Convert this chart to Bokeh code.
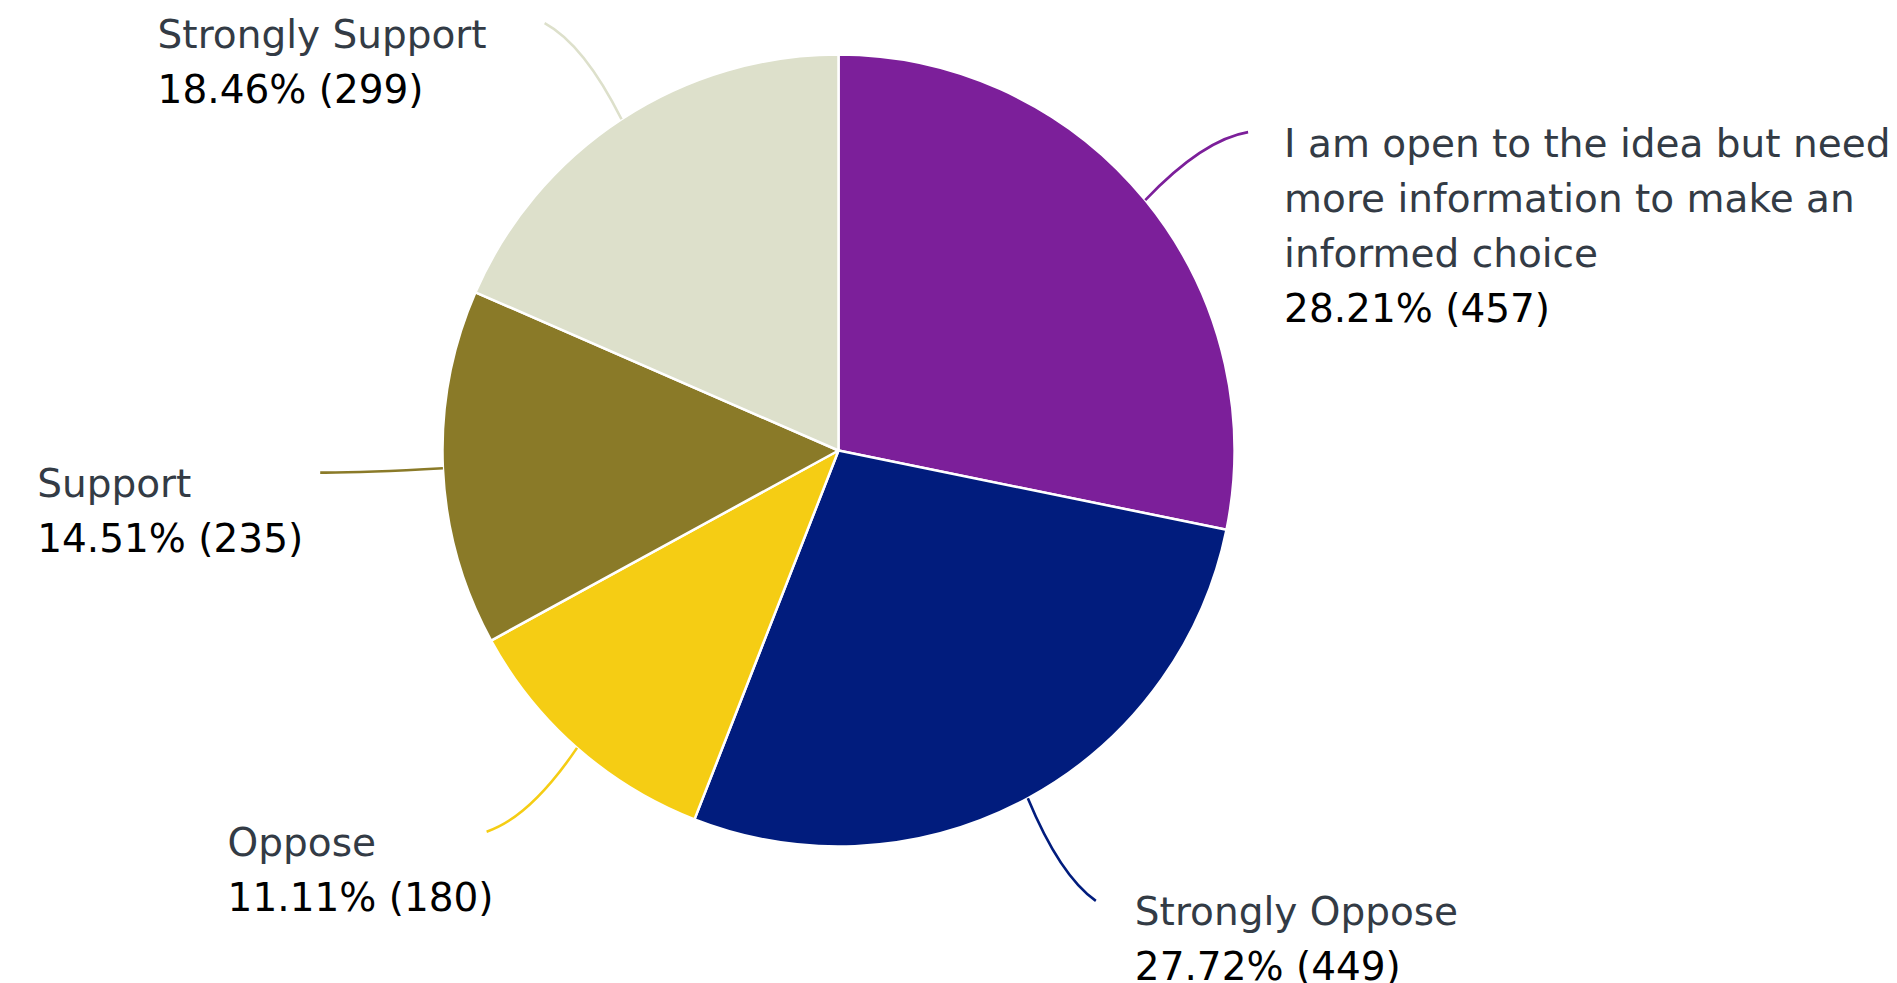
import textwrap
import numpy as np
from bokeh.plotting import figure
from bokeh.models import Range1d, ColumnDataSource
from bokeh.core.properties import value
from bokeh.embed import file_html
from bokeh.resources import INLINE

# ---- data (clockwise from 12 o'clock) ----
categories = [
    "I am open to the idea but need more information to make an informed choice",
    "Strongly Oppose",
    "Oppose",
    "Support",
    "Strongly Support",
]
percents = [28.21, 27.72, 11.11, 14.51, 18.46]
counts = [457, 449, 180, 235, 299]
colors = ["#7c1f9a", "#011c7d", "#f5cd14", "#8a7a28", "#dde0cb"]

# ---- layout ----
W, H = 1897, 983
CX, CY, R = 838, H - 450, 396
FONT = value("DejaVu Sans")
FS = "39px"
LINE_H = 55
label_dx = [36, 39, -259, -283, -387]
label_dy = 11

fr = np.array(percents) / sum(percents)
cum = np.concatenate([[0.0], np.cumsum(fr)]) * 2 * np.pi
a0, a1 = cum[:-1], cum[1:]
start = np.pi / 2 - a1
end = np.pi / 2 - a0

p = figure(width=W, height=H, x_range=Range1d(0, W), y_range=Range1d(0, H),
           output_backend="svg", toolbar_location=None, min_border=0,
           x_axis_type=None, y_axis_type=None)
p.grid.visible = False
p.outline_line_color = None
p.background_fill_color = "white"
p.border_fill_color = "white"

src = ColumnDataSource(dict(start=start, end=end, color=colors))
p.wedge(x=CX, y=CY, radius=R, start_angle="start", end_angle="end",
        fill_color="color", line_color="white", line_width=2.5, source=src)

# leader lines
mid = (a0 + a1) / 2
delta = np.deg2rad(2.8) * np.sin(mid) * np.cos(mid)
sx = CX + R * np.sin(mid)
sy = CY + R * np.cos(mid)
ea = mid + delta
ex = CX + 1.31 * R * np.sin(ea)
ey = CY + 1.31 * R * np.cos(ea)
ca = mid - 0.9 * delta
cxp = CX + 1.21 * R * np.sin(ca)
cyp = CY + 1.21 * R * np.cos(ca)
p.quadratic(x0=sx, y0=sy, x1=ex, y1=ey, cx=cxp, cy=cyp,
            line_color=colors, line_width=2.6)

# labels
nx, ny, nt, vx, vy, vt = [], [], [], [], [], []
for i, cat in enumerate(categories):
    lines = textwrap.wrap(cat, 30)
    x0 = ex[i] + label_dx[i]
    y0 = ey[i] - label_dy
    for j, ln in enumerate(lines):
        nx.append(x0); ny.append(y0 - j * LINE_H); nt.append(ln)
    vx.append(x0); vy.append(y0 - len(lines) * LINE_H)
    vt.append(f"{percents[i]:.2f}% ({counts[i]})")

p.text(x=nx, y=ny, text=nt, text_font=FONT, text_font_size=FS,
       text_color="#333b45", text_align="left", text_baseline="alphabetic")
p.text(x=vx, y=vy, text=vt, text_font=FONT, text_font_size=FS,
       text_color="#000000", text_align="left", text_baseline="alphabetic")

open("out.html", "w").write(file_html(p, INLINE))
